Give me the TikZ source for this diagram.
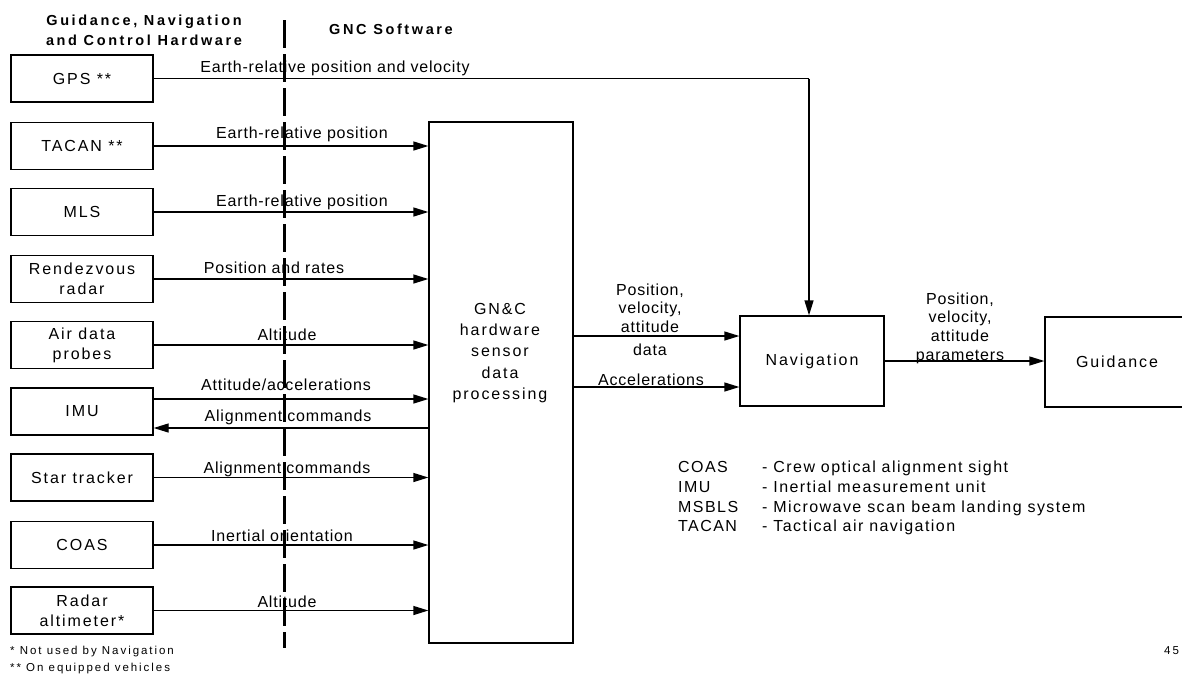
\documentclass[tikz,border=0pt]{standalone}
\usepackage{fontspec}
\setmainfont{Liberation Sans}
\newfontfamily\lblfont[LetterSpace=5]{Liberation Sans}
\newfontfamily\boxfont[LetterSpace=12]{Liberation Sans}
\newfontfamily\headfont[LetterSpace=18]{Liberation Sans}
\newfontfamily\legfont[LetterSpace=9]{Liberation Sans}
\newfontfamily\notefont[LetterSpace=17]{Liberation Sans}
\usetikzlibrary{arrows.meta}
\begin{document}
\begin{tikzpicture}[x=1pt,y=-1pt,
  hw/.style={draw, line width=1.3pt, minimum width=142pt, minimum height=47pt, inner sep=0pt, align=center, font={\boxfont\fontsize{16}{20}\selectfont}},
  sw/.style={draw, line width=1.3pt, minimum width=144pt, inner sep=0pt, align=center, font={\boxfont\fontsize{16}{20}\selectfont}},
  lbl/.style={inner sep=0pt, text height=11.5pt, text depth=0pt, font={\lblfont\fontsize{16}{19}\selectfont}},
  mlbl/.style={inner sep=0pt, align=center},
  leg/.style={inner sep=0pt, anchor=west, text height=11.5pt, text depth=0pt, font={\legfont\fontsize{16}{19}\selectfont}},
  note/.style={inner sep=0pt, anchor=west, text height=8pt, text depth=0pt, font={\notefont\fontsize{11.5}{13}\selectfont}},
  head/.style={inner sep=0pt, align=center, font={\headfont\bfseries\fontsize{14.5}{20}\selectfont}},
  arr/.style={line width=1.3pt, -{Triangle[length=15pt, width=9pt]}},
  ln/.style={line width=1.3pt}
]
\useasboundingbox (0,0) rectangle (1182,673);
\clip (0,0) rectangle (1182,673);
\fill[white] (0,0) rectangle (1182,673);

% headers
\node[head] (hwhead) at (144,30) {Guidance, Navigation\\and Control Hardware};
\node[head, text height=10.5pt, text depth=0pt] (swhead) at (391,29) {GNC Software};

% dashed divider
\coordinate (divtop) at (284,20);
\coordinate (divbot) at (284,648);
\draw[line width=3pt, dash pattern=on 28pt off 6pt] (divtop) -- (divbot);

% hardware boxes
\node[hw] (gps)   at (82,78.5)  {GPS **};
\node[hw] (tacan) at (82,146)   {TACAN **};
\node[hw] (mls)   at (82,212)   {MLS};
\node[hw] (rend)  at (82,279)   {Rendezvous\\radar};
\node[hw] (air)   at (82,345)   {Air data\\probes};
\node[hw] (imu)   at (82,411.5) {IMU};
\node[hw] (star)  at (82,477.5) {Star tracker};
\node[hw] (coas)  at (82,545)   {COAS};
\node[hw] (radar) at (82,610.5) {Radar\\altimeter*};

% software boxes
\node[sw, minimum height=521pt] (gnc) at (501,382.5) {};
\node[mlbl, font={\boxfont\fontsize{16}{21.25}\selectfont}] (gnclbl) at (500,353) {GN\&C\\hardware\\sensor\\data\\processing};
\node[sw, minimum height=90pt] (nav) at (812,361) {Navigation};
\node[sw, minimum height=90pt] (guid) at (1117,362) {Guidance};

% connectors from hardware
\coordinate (gpsturn) at (809,78.5);
\draw[ln] (gps.east) -- (gpsturn);
\draw[arr] (gpsturn) -- (gpsturn |- nav.north);
\draw[arr] (tacan.east) -- (tacan.east -| gnc.west);
\draw[arr] (mls.east) -- (mls.east -| gnc.west);
\draw[arr] (rend.east) -- (rend.east -| gnc.west);
\draw[arr] (air.east) -- (air.east -| gnc.west);
\coordinate (imuA) at ([yshift=12.5pt]imu.east);
\coordinate (imuB) at ([yshift=-16.5pt]imu.east);
\draw[arr] (imuA) -- (imuA -| gnc.west);
\draw[arr] (imuB -| gnc.west) -- (imuB);
\draw[arr] (star.east) -- (star.east -| gnc.west);
\draw[arr] (coas.east) -- (coas.east -| gnc.west);
\draw[arr] (radar.east) -- (radar.east -| gnc.west);

% connectors to navigation and guidance
\coordinate (gA) at ([yshift=46.5pt]gnc.east);
\coordinate (gB) at ([yshift=-4.5pt]gnc.east);
\draw[arr] (gA) -- (gA -| nav.west);
\draw[arr] (gB) -- (gB -| nav.west);
\draw[arr] (nav.east) -- (nav.east -| guid.west);

% connector labels
\node[lbl] (lgps)  at (335,67)  {Earth-relative position and velocity};
\node[lbl] (ltac)  at (302,133) {Earth-relative position};
\node[lbl] (lmls)  at (302,201) {Earth-relative position};
\node[lbl] (lren)  at (274,268) {Position and rates};
\node[lbl] (lair)  at (287,335) {Altitude};
\node[lbl] (limu1) at (286,385) {Attitude/accelerations};
\node[lbl] (limu2) at (288,416) {Alignment commands};
\node[lbl] (lstar) at (287,468) {Alignment commands};
\node[lbl] (lcoas) at (282,536) {Inertial orientation};
\node[lbl] (lrad)  at (287,602) {Altitude};
\node[mlbl, font={\lblfont\fontsize{16}{18.5}\selectfont}] (lnav1) at (650,308) {Position,\\velocity,\\attitude};
\node[lbl] (lnav2) at (650,350) {data};
\node[lbl] (lnav3) at (651,380) {Accelerations};
\node[mlbl, font={\lblfont\fontsize{16}{18.7}\selectfont}] (lgd) at (960,328) {Position,\\velocity,\\attitude\\parameters};

% legend
\node[leg] (a1) at (678,467) {COAS};
\node[leg] (a2) at (678,487) {IMU};
\node[leg] (a3) at (678,507) {MSBLS};
\node[leg] (a4) at (678,526) {TACAN};
\node[leg] (d1) at (762,467) {- Crew optical alignment sight};
\node[leg] (d2) at (762,487) {- Inertial measurement unit};
\node[leg] (d3) at (762,507) {- Microwave scan beam landing system};
\node[leg] (d4) at (762,526) {- Tactical air navigation};

% footnotes and page number
\node[note] (n1) at (10,650) {* Not used by Navigation};
\node[note] (n2) at (10,667) {** On equipped vehicles};
\node[note] (pg) at (1164,650) {45};
\end{tikzpicture}
\end{document}
